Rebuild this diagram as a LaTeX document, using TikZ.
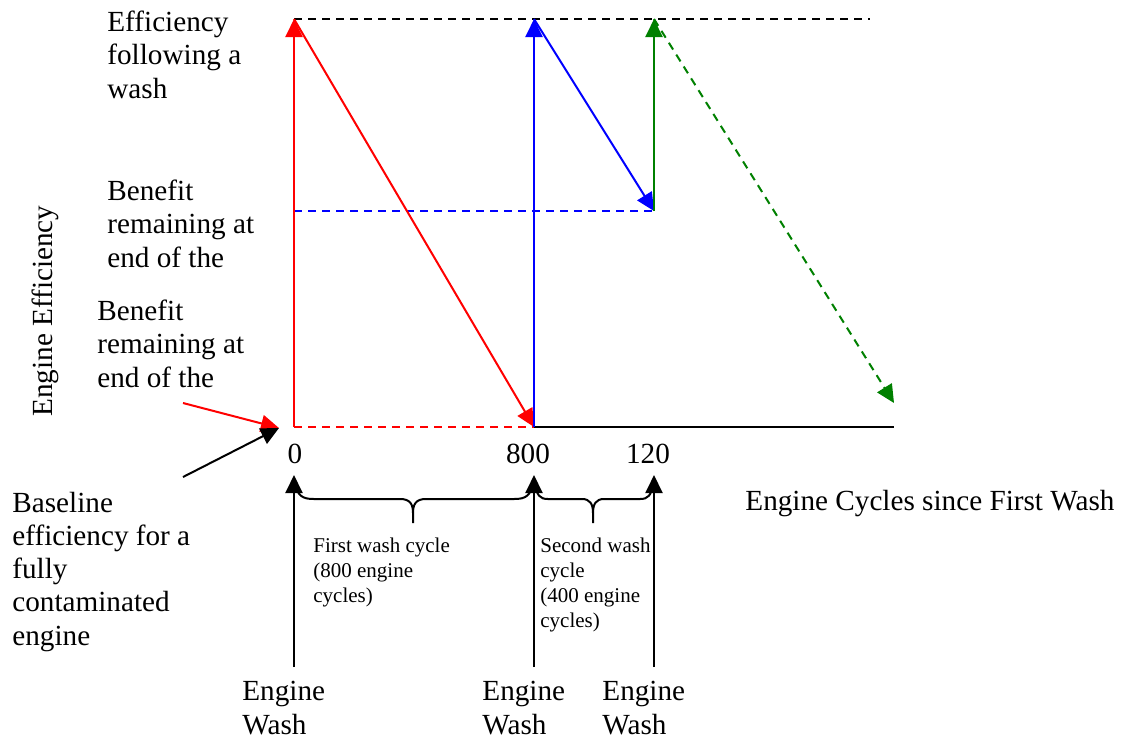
\documentclass[tikz,border=0pt]{standalone}
\usepackage{fontspec}
\setmainfont{Liberation Serif}
\usetikzlibrary{arrows.meta}
\begin{document}
\begin{tikzpicture}[x=0.5pt,y=-0.5pt,
 big/.style={font=\fontsize{14.6}{16.6}\selectfont, align=left, inner sep=0pt, anchor=base west},
 small/.style={font=\fontsize{10.5}{12.5}\selectfont, align=left, inner sep=0pt, anchor=base west},
 num/.style={font=\fontsize{14.6}{16.6}\selectfont, inner sep=0pt, anchor=base},
 arr/.style={line width=1pt, -{Triangle[length=9pt,width=8.5pt]}},
 dsh/.style={line width=0.8pt, dash pattern=on 4pt off 3pt},
 brace/.style={line width=1pt, black},
]
\useasboundingbox (0,0) rectangle (1122,740);
% key points
\coordinate (o) at (294,427);
\coordinate (t0) at (294,19);
\coordinate (b800) at (534,427);
\coordinate (t800) at (534,19);
\coordinate (m120) at (654,211);
\coordinate (t120) at (654,19);
\coordinate (gend) at (894,403);
\coordinate (xend) at (894,427);
\coordinate (dend) at (870,19);
\coordinate (bm) at (294,211);
\coordinate (tip) at (279,428);
\coordinate (rs) at (183,403);
\coordinate (ks) at (183,477);
\coordinate (w0) at (294,667);
\coordinate (a0) at (294,475);
\coordinate (w1) at (534,667);
\coordinate (a1) at (534,475);
\coordinate (w2) at (654,667);
\coordinate (a2) at (654,475);

% dashed guides
\draw[dsh, black] (t0) -- (dend);
\draw[dsh, blue] (bm) -- (m120);
\draw[dsh, red] (o) -- (b800);
\draw[line width=1pt, black] (b800) -- (xend);

% red wash cycle
\draw[arr, red] (o) -- (t0);
\draw[arr, red] (t0) -- (b800);
% blue wash cycle
\draw[arr, blue] (b800) -- (t800);
\draw[arr, blue] (t800) -- (m120);
% green
\draw[arr, green!50!black] (m120) -- (t120);
\draw[arr, green!50!black, dash pattern=on 4pt off 3pt] (t120) -- (gend);

% pointer arrows
\draw[arr, red] (rs) -- (tip);
\draw[arr, black] (ks) -- (tip);

% bottom arrows
\draw[arr, black] (w0) -- (a0);
\draw[arr, black] (w1) -- (a1);
\draw[arr, black] (w2) -- (a2);

% braces
\draw[brace] (294,482) .. controls (298,496) and (302,499) .. (314,499) -- (400,499)
  .. controls (410,499) and (413,504) .. (413,513) -- (413,523)
  (413,513) .. controls (413,504) and (416,499) .. (426,499) -- (514,499)
  .. controls (526,499) and (530,496) .. (534,482);
\draw[brace] (534,482) .. controls (537,496) and (540,499) .. (548,499) -- (582,499)
  .. controls (590,499) and (593,504) .. (593,513) -- (593,523)
  (593,513) .. controls (593,504) and (596,499) .. (604,499) -- (640,499)
  .. controls (648,499) and (651,496) .. (654,482);

% axis numbers
\node[num] (n0) at (295,463) {0};
\node[num] (n800) at (528,463) {800};
\node[num] (n120) at (648,463) {120};

% labels (anchored at the baseline of the last line)
\node[big] (eff) at (107,98) {Efficiency\\following a\\wash};
\node[big] (ben1) at (107,267) {Benefit\\remaining at\\end of the};
\node[big] (ben2) at (97,387) {Benefit\\remaining at\\end of the};
\node[big] (base) at (12,645) {Baseline\\efficiency for a\\fully\\contaminated\\engine};
\node[big, rotate=90] (yl) at (52,417) {Engine Efficiency};
\node[big] (xl) at (745,510) {Engine Cycles since First Wash};
\node[small] (c1) at (313,602) {First wash cycle\\(800 engine\\cycles)};
\node[small] (c2) at (540,627) {Second wash\\cycle\\(400 engine\\cycles)};
\node[big] (ew0) at (242,734) {Engine\\Wash};
\node[big] (ew1) at (482,734) {Engine\\Wash};
\node[big] (ew2) at (602,734) {Engine\\Wash};
\end{tikzpicture}
\end{document}
